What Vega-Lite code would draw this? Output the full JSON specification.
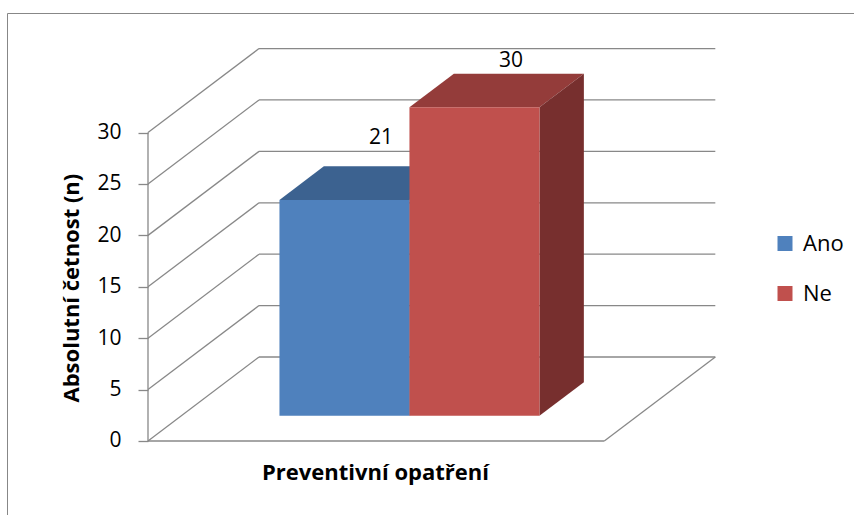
{
  "$schema": "https://vega.github.io/schema/vega-lite/v6.json",
  "width": 847,
  "height": 502,
  "autosize": {"type": "none"},
  "padding": {"left": 7, "top": 13, "right": 0, "bottom": 0},
  "background": "white",
  "params": [
    {"name": "depthX", "value": 0.854},
    {"name": "depthV", "value": 8.17},
    {"name": "floorW", "value": 3.51},
    {"name": "nearD", "value": 0.3},
    {"name": "farD", "value": 0.7},
    {"name": "labelD", "value": 0.63},
    {"name": "labelLift", "value": 3.35},
    {"name": "labelTopGap", "value": 1.24},
    {"name": "axisMax", "value": 30}
  ],
  "datasets": {
    "answers": [
      {"answer": "Ano", "count": 21},
      {"answer": "Ne", "count": 30}
    ],
    "levels": [
      {"level": 0}, {"level": 5}, {"level": 10}, {"level": 15},
      {"level": 20}, {"level": 25}, {"level": 30}
    ]
  },
  "layer": [
    {
      "data": {"name": "levels"},
      "transform": [
        {"calculate": "datum.level + depthV", "as": "backY"},
        {"calculate": "depthX", "as": "backX"},
        {"calculate": "0", "as": "wallX"}
      ],
      "mark": {"type": "rule", "color": "#888888", "strokeWidth": 1.3},
      "encoding": {
        "x": {
          "field": "wallX", "type": "quantitative",
          "scale": {"domain": [-1.0846, 5.4308], "nice": false, "zero": false},
          "axis": {
            "orient": "bottom", "domain": false, "ticks": false, "labels": false, "grid": false,
            "title": "Preventivní opatření", "titleFont": "Open Sans", "titleFontSize": 22,
            "titleFontWeight": "bold", "titleColor": "#000000",
            "titleX": 368, "titleY": -36, "titleBaseline": "alphabetic", "titleAlign": "center"
          }
        },
        "y": {
          "field": "level", "type": "quantitative",
          "scale": {"domain": [-7.2, 41.63], "nice": false, "zero": false},
          "axis": {
            "values": [0, 5, 10, 15, 20, 25, 30],
            "offset": -141, "domain": false, "grid": false,
            "ticks": true, "tickSize": 10, "tickColor": "#888888", "tickWidth": 1.3,
            "labelFont": "Open Sans", "labelFontSize": 21, "labelColor": "#000000", "labelPadding": 17,
            "title": "Absolutní četnost (n)", "titleFont": "Open Sans", "titleFontSize": 22,
            "titleFontWeight": "bold", "titleColor": "#000000",
            "titleX": -77, "titleY": 274.6, "titleAngle": 270,
            "titleBaseline": "middle", "titleAlign": "center"
          }
        },
        "x2": {"field": "backX"},
        "y2": {"field": "backY"}
      }
    },
    {
      "data": {"name": "levels"},
      "transform": [
        {"calculate": "datum.level + depthV", "as": "backY"},
        {"calculate": "depthX", "as": "backX"},
        {"calculate": "depthX + floorW", "as": "rightX"}
      ],
      "mark": {"type": "rule", "color": "#888888", "strokeWidth": 1.3},
      "encoding": {
        "x": {"field": "backX", "type": "quantitative"},
        "x2": {"field": "rightX"},
        "y": {"field": "backY", "type": "quantitative"}
      }
    },
    {
      "data": {"name": "levels"},
      "transform": [
        {"filter": "datum.level == 0"},
        {"calculate": "0", "as": "leftX"},
        {"calculate": "floorW", "as": "floorRight"}
      ],
      "mark": {"type": "rule", "color": "#888888", "strokeWidth": 1.3},
      "encoding": {
        "x": {"field": "leftX", "type": "quantitative"},
        "x2": {"field": "floorRight"},
        "y": {"field": "level", "type": "quantitative"}
      }
    },
    {
      "data": {"name": "levels"},
      "transform": [
        {"filter": "datum.level == 0"},
        {"calculate": "floorW", "as": "floorRight"},
        {"calculate": "floorW + depthX", "as": "cornerX"},
        {"calculate": "datum.level + depthV", "as": "backY"}
      ],
      "mark": {"type": "rule", "color": "#888888", "strokeWidth": 1.3},
      "encoding": {
        "x": {"field": "floorRight", "type": "quantitative"},
        "x2": {"field": "cornerX"},
        "y": {"field": "level", "type": "quantitative"},
        "y2": {"field": "backY"}
      }
    },
    {
      "data": {"name": "levels"},
      "transform": [
        {"aggregate": [
          {"op": "min", "field": "level", "as": "lo"},
          {"op": "max", "field": "level", "as": "hi"}
        ]},
        {"calculate": "0", "as": "axisX"}
      ],
      "mark": {"type": "rule", "color": "#888888", "strokeWidth": 1.3},
      "encoding": {
        "x": {"field": "axisX", "type": "quantitative"},
        "y": {"field": "lo", "type": "quantitative"},
        "y2": {"field": "hi"}
      }
    },
    {
      "data": {"name": "answers"},
      "transform": [
        {"window": [{"op": "row_number", "as": "slot"}]},
        {"joinaggregate": [{"op": "count", "as": "nBars"}]},
        {"calculate": "(floorW - datum.nBars) / 2 + datum.slot - 1", "as": "u0"},
        {"calculate": "nearD", "as": "near"},
        {"calculate": "farD", "as": "far"},
        {"fold": ["near", "far"], "as": ["face", "depth"]},
        {"calculate": "datum.u0 + datum.depth * depthX", "as": "xl"},
        {"calculate": "datum.xl + 1", "as": "xr"},
        {"calculate": "datum.depth * depthV", "as": "yb"},
        {"calculate": "datum.count + datum.depth * depthV", "as": "yt"}
      ],
      "layer": [
        {
          "mark": {"type": "area", "orient": "horizontal"},
          "encoding": {
            "y": {"field": "yt", "type": "quantitative"},
            "x": {"field": "xl", "type": "quantitative", "stack": null},
            "x2": {"field": "xr"},
            "color": {
              "field": "answer", "type": "nominal",
              "scale": {"domain": ["Ano", "Ne"], "range": ["#3C6290", "#943C3A"]},
              "legend": null
            }
          }
        },
        {
          "mark": {"type": "area", "orient": "vertical"},
          "encoding": {
            "x": {"field": "xr", "type": "quantitative"},
            "y": {"field": "yb", "type": "quantitative", "stack": null},
            "y2": {"field": "yt"},
            "color": {
              "field": "answer", "type": "nominal",
              "scale": {"domain": ["Ano", "Ne"], "range": ["#33547B", "#772F2E"]},
              "legend": null
            }
          }
        },
        {
          "transform": [{"filter": "datum.face == 'near'"}],
          "mark": {"type": "rect"},
          "encoding": {
            "x": {"field": "xl", "type": "quantitative"},
            "x2": {"field": "xr"},
            "y": {"field": "yb", "type": "quantitative"},
            "y2": {"field": "yt"},
            "color": {
              "field": "answer", "type": "nominal",
              "scale": {"domain": ["Ano", "Ne"], "range": ["#4F81BD", "#C0504D"]},
              "legend": {
                "title": null, "orient": "none", "direction": "vertical",
                "legendX": 767, "legendY": 219.5,
                "symbolType": "square", "symbolSize": 225, "symbolStrokeWidth": 0,
                "labelFont": "Open Sans", "labelFontSize": 22, "labelColor": "#000000",
                "labelOffset": 7, "rowPadding": 28, "padding": 0
              }
            }
          }
        },
        {
          "transform": [
            {"filter": "datum.face == 'near'"},
            {"calculate": "datum.u0 + 0.5 + labelD * depthX", "as": "lx"},
            {"calculate": "min(datum.count + labelD * depthV + labelLift, axisMax + depthV - labelTopGap)", "as": "ly"}
          ],
          "mark": {"type": "text", "font": "Open Sans", "fontSize": 21, "color": "#000000", "align": "center", "baseline": "middle"},
          "encoding": {
            "x": {"field": "lx", "type": "quantitative"},
            "y": {"field": "ly", "type": "quantitative"},
            "text": {"field": "count", "type": "quantitative"}
          }
        }
      ],
      "resolve": {"scale": {"color": "independent"}}
    }
  ],
  "resolve": {"scale": {"color": "independent"}},
  "config": {
    "view": {"stroke": "#878787", "strokeWidth": 1},
    "font": "Open Sans"
  }
}
